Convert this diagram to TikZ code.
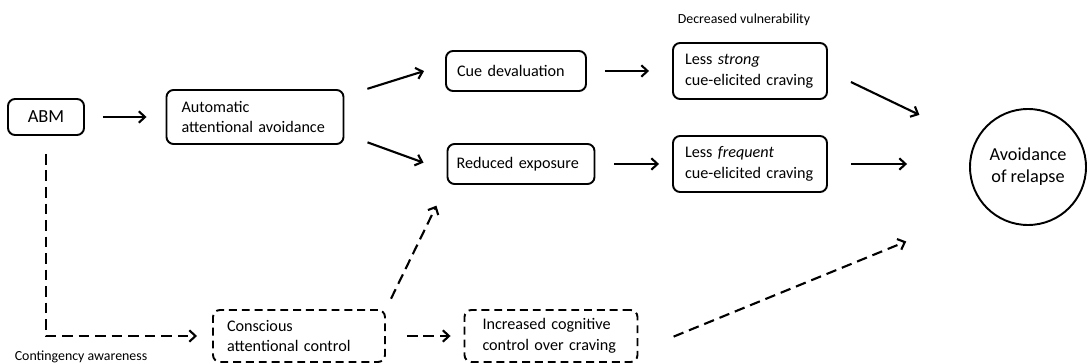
\documentclass[tikz,border=0pt]{standalone}
\usepackage{fontspec}
\setmainfont{Carlito}
\usepackage{tikz}
\usetikzlibrary{positioning, arrows.meta}

\begin{document}
\begin{tikzpicture}[
    box/.style={draw, line width=1.1pt, rounded corners=4pt, align=left, inner ysep=0pt,
        font=\fontsize{9.2}{11.9}\selectfont},
    dbox/.style={box, dash pattern=on 4.5pt off 2.8pt},
    arr/.style={-{Straight Barb[length=3.5pt, width=6.5pt]}, line width=1.2pt},
    darr/.style={arr, dash pattern=on 6pt off 3.4pt},
    note/.style={font=\fontsize{7.9}{9.5}\selectfont}
]
    \useasboundingbox (0, 0) rectangle (21.76, -7.28);

    \node[box, align=center, inner xsep=0pt, minimum width=1.52cm, minimum height=0.72cm, font=\fontsize{10.5}{12.5}\selectfont] (abm) at (0.92, -2.34) {ABM};
    \node[box, text width=2.94cm, inner xsep=0.3cm, minimum height=1.08cm] (auto) at (5.10, -2.34) {Automatic\\attentional avoidance};
    \node[box, text width=2.36cm, inner xsep=0.22cm, minimum height=0.8cm] (cue) at (10.32, -1.42) {Cue devaluation};
    \node[box, text width=2.58cm, inner xsep=0.18cm, minimum height=0.8cm] (red) at (10.42, -3.28) {Reduced exposure};
    \node[box, text width=2.6cm, inner xsep=0.24cm, minimum height=1.12cm] (strong) at (15.0, -1.42) {Less \textit{strong}\\cue-elicited craving};
    \node[box, text width=2.6cm, inner xsep=0.24cm, minimum height=1.12cm] (freq) at (15.0, -3.28) {Less \textit{frequent}\\cue-elicited craving};
    \node[circle, draw, line width=1.1pt, minimum size=2.32cm, inner sep=0pt, align=center, font=\fontsize{10.4}{12.5}\selectfont] (relapse) at (20.56, -3.34) {Avoidance\\of relapse};
    \node[dbox, text width=2.88cm, inner xsep=0.28cm, minimum height=1.04cm] (consc) at (5.98, -6.72) {Conscious\\attentional control};
    \node[dbox, text width=2.74cm, inner xsep=0.36cm, minimum height=1.04cm] (incr) at (11.02, -6.72) {Increased cognitive\\control over craving};

    \node[note] (vuln) at (14.88, -0.40) {Decreased vulnerability};
    \node[note] (cont) at (1.62, -7.14) {Contingency awareness};

    % automatic route
    \draw[arr, shorten <=0.36cm, shorten >=0.38cm] (abm) -- (auto);
    \draw[arr, shorten <=0.48cm, shorten >=0.44cm] ([yshift=0.42cm]auto.east) -- ([yshift=0.13cm]cue.west);
    \draw[arr, shorten <=0.49cm, shorten >=0.49cm] ([yshift=-0.34cm]auto.east) -- ([yshift=-0.14cm]red.west);
    \draw[arr, shorten <=0.36cm, shorten >=0.46cm] (cue) -- (strong);
    \draw[arr, shorten <=0.38cm, shorten >=0.26cm] (red) -- (freq);
    \draw[arr, shorten <=0.51cm, shorten >=1.23cm] (strong.east) -- (relapse);
    \draw[arr, shorten <=0.46cm, shorten >=1.24cm] (freq.east) -- (freq.east -| relapse.west);

    % conscious route
    \draw[darr, shorten <=0.36cm, shorten >=0.3cm] (abm.south) |- (consc.west);
    \draw[darr, shorten <=0.23cm, shorten >=0.46cm] (consc.north east) -- (red.south west);
    \draw[darr, shorten <=0.42cm, shorten >=0.26cm] (consc) -- (incr);
    \draw[darr, shorten <=0.76cm, shorten >=1.73cm] ([yshift=-0.3cm]incr.east) -- (relapse.south west);
\end{tikzpicture}
\end{document}
